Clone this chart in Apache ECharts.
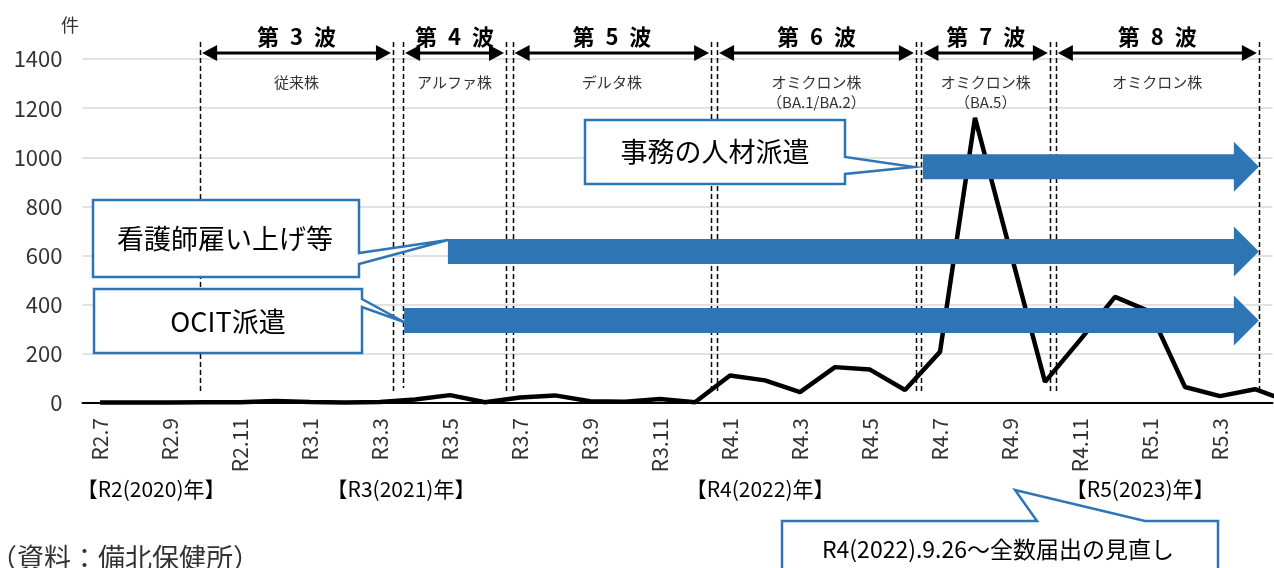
<!DOCTYPE html>
<html><head><meta charset="utf-8">
<script src="https://cdn.jsdelivr.net/npm/echarts@6/dist/echarts.min.js"></script>
<style>html,body{margin:0;padding:0;background:#fff;}#c{width:1274px;height:568px;}</style>
</head><body><div id="c"></div>
<script>
// ---- data ----
const months = ['R2.7','R2.8','R2.9','R2.10','R2.11','R2.12','R3.1','R3.2','R3.3','R3.4','R3.5','R3.6',
  'R3.7','R3.8','R3.9','R3.10','R3.11','R3.12','R4.1','R4.2','R4.3','R4.4','R4.5','R4.6',
  'R4.7','R4.8','R4.9','R4.10','R4.11','R4.12','R5.1','R5.2','R5.3','R5.4','R5.5'];
const cases = [2,2,2,3,3,8,4,2,4,14,32,3,
  22,31,7,5,16,3,112,92,44,146,136,53,
  208,1161,622,86,256,432,372,65,28,56,5];
const yearLabels = ['【R2(2020)年】','【R3(2021)年】','【R4(2022)年】','【R5(2023)年】'];
const waveNames = ['第\u20023\u2002波','第\u20024\u2002波','第\u20025\u2002波','第\u20026\u2002波','第\u20027\u2002波','第\u20028\u2002波'];
const strainNames = [['従来株'],['アルファ株'],['デルタ株'],['オミクロン株','（BA.1/BA.2）'],['オミクロン株','（BA.5）'],['オミクロン株']];
const measureNames = ['事務の人材派遣','看護師雇い上げ等','OCIT派遣'];

// ---- annotation layout (category index positions, not data) ----
const waveBounds = [[2.86],[8.37,8.66],[11.6,11.79],[17.46,17.63],[23.31,23.47],[27.14,27.31],[33.11]];
const yearPos = [1.46, 8.6, 18.86, 29.72];
const measureStart = [23.51, 9.94, 8.69];
const measureEnd = 33.11;
const measureY = [961, 617, 336];

const chart = echarts.init(document.getElementById('c'));
const jp = '"Noto Sans CJK JP"';
chart.setOption({
  animation:false,
  grid:{left:82.5, right:1.5, top:59, bottom:165},
  xAxis:{type:'category', data:months, boundaryGap:true, max:33,
    axisLine:{lineStyle:{color:'#000', width:2}}, axisTick:{show:false},
    axisLabel:{interval:1, rotate:90, margin:15, fontSize:21, fontFamily:'Noto Sans CJK JP', color:'#333'}},
  yAxis:{type:'value', min:0, max:1400, interval:200,
    axisLine:{show:false}, axisTick:{show:false},
    splitLine:{lineStyle:{color:'#d9d9d9', width:1.5}},
    axisLabel:{margin:20, fontSize:22, fontFamily:'Noto Sans CJK JP', color:'#333', formatter: v => String(v)}},
  series:[{type:'line', data:cases, symbol:'none', z:2, clip:true,
    lineStyle:{color:'#000', width:4.5}}]
});

const n0 = chart.convertToPixel({xAxisIndex:0}, months[0]);
const n1 = chart.convertToPixel({xAxisIndex:0}, months[1]);
const X = i => n0 + (n1 - n0) * i;
const Y = v => chart.convertToPixel({yAxisIndex:0}, v);
const blue = '#2E75B6';
const g = [];
function text(t, x, y, size, opts){
  g.push({type:'text', z:120, style:Object.assign({text:t, x:x, y:y, fill:'#000',
    font:(opts&&opts.weight||'normal')+' '+size+'px '+jp, align:'center', verticalAlign:'middle'}, opts&&opts.style||{})});
}
// dashed boundaries
waveBounds.forEach(b => b.forEach((i, k) => {
  const x = Math.round(X(i)) + 0.5;
  const bottom = (b.length === 2 && k === 1 && i < 9) ? 388 : 394;
  g.push({type:'line', z:40, shape:{x1:x, y1:42, x2:x, y2:bottom},
    style:{stroke:'#000', lineWidth:1.5, lineDash:[5,3]}});
}));
// wave arrows & labels
for (let w = 0; w < 6; w++) {
  const l = waveBounds[w], r = waveBounds[w+1];
  const xs = X(l[l.length-1]) + 2, xe = X(r[0]) - 2, y = 53;
  g.push({type:'line', z:60, shape:{x1:xs+10, y1:y, x2:xe-10, y2:y}, style:{stroke:'#000', lineWidth:3}});
  g.push({type:'polygon', z:60, shape:{points:[[xs,y],[xs+15,y-8],[xs+15,y+8]]}, style:{fill:'#000'}});
  g.push({type:'polygon', z:60, shape:{points:[[xe,y],[xe-15,y-8],[xe-15,y+8]]}, style:{fill:'#000'}});
  const cx = (xs + xe) / 2;
  text(waveNames[w], cx, 37, 22, {weight:'bold'});
  strainNames[w].forEach((s, k) => text(s, cx, 82 + k*20, 15, {style:{fill:'#333'}}));
}
// blue block arrows
measureNames.forEach((m, k) => {
  const x0 = X(measureStart[k]), xt = X(measureEnd), yc = Y(measureY[k]), xb = xt - 25;
  g.push({type:'polygon', z:100, shape:{points:[[x0,yc-12.5],[xb,yc-12.5],[xb,yc-25],[xt,yc],[xb,yc+25],[xb,yc+12.5],[x0,yc+12.5]]},
    style:{fill:blue}});
});
// callouts
const callouts = [
  {pts:[[585,120],[845,120],[845,157],[914,167],[845,174],[845,184],[585,184]], tx:715, ty:152, t:measureNames[0], size:27},
  {pts:[[93,200],[359,200],[359,253],[448,240],[359,264],[359,277],[93,277]], tx:225, ty:239, t:measureNames[1], size:27},
  {pts:[[94,289],[362,289],[362,299],[404,322],[362,307],[362,353],[94,353]], tx:228, ty:322, t:measureNames[2], size:27},
  {pts:[[782,521],[1037,521],[1015,490],[1145,521],[1218,521],[1218,590],[782,590]], tx:998, ty:549, t:'R4(2022).9.26～全数届出の見直し', size:23}
];
callouts.forEach(c => {
  g.push({type:'polygon', z:110, shape:{points:c.pts}, style:{fill:'#fff', stroke:blue, lineWidth:2.5}});
  text(c.t, c.tx, c.ty, c.size);
});
// year labels
yearLabels.forEach((t, k) => text(t, X(yearPos[k]), 489, 21));
// unit & source
text('件', 70, 25, 18, {style:{fill:'#333'}});
text('（資料：備北保健所）', -10, 558, 27, {style:{align:'left', fill:'#333'}});
chart.setOption({graphic:g});
</script></body></html>
